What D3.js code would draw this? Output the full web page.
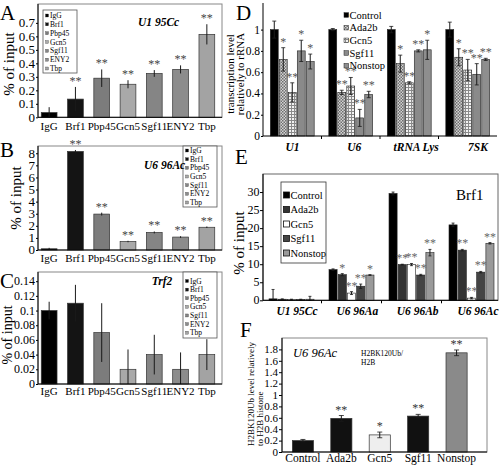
<!DOCTYPE html>
<html><head><meta charset="utf-8">
<script src="https://cdn.jsdelivr.net/npm/d3@7"></script>
<style>
body{margin:0;background:#fff}
svg{display:block}
</style></head><body>
<svg id="c" width="500" height="465"></svg>
<script>
// ---------- DATA ----------
const catsABC = ["IgG","Brf1","Pbp45","Gcn5","Sgf11","ENY2","Tbp"];
const valsA = [0.035,0.135,0.29,0.245,0.325,0.355,0.615];
const errA  = [0.04,0.09,0.065,0.03,0.025,0.03,0.075];
const starsA = ["","**","**","**","**","**","**"];
const ticksA = [0,0.1,0.2,0.3,0.4,0.5,0.6,0.7];

const valsB = [0.1,8.15,2.97,0.7,1.45,1.07,1.88];
const errB  = [0.08,0.12,0.12,0.06,0.08,0.07,0.06];
const starsB = ["","**","**","**","**","**","**"];
const ticksB = [0,1,2,3,4,5,6,7,8];

const valsC = [0.1,0.11,0.07,0.02,0.04,0.02,0.04];
const errC  = [0.012,0.025,0.04,0.027,0.027,0.023,0.021];
const starsC = ["","","","","","",""];
const ticksC = [0,0.02,0.04,0.06,0.08,0.1,0.12,0.14];

const groupsD = ["U1","U6","tRNA Lys","7SK"];
const seriesD = ["Control","Ada2b","Gcn5","Sgf11","Nonstop"];
const dControl = [1.0,1.0,1.0,1.0];
const dAda2b   = [0.72,0.41,0.68,0.74];
const dGcn5    = [0.41,0.47,0.50,0.62];
const dSgf11   = [0.80,0.17,0.80,0.58];
const dNonstop = [0.70,0.39,0.81,0.72];
const eControlD = [0.08,0.01,0.03,0.07];
const eAda2bD   = [0.11,0.02,0.08,0.08];
const eGcn5D    = [0.09,0.08,0.01,0.10];
const eSgf11D   = [0.10,0.08,0.01,0.10];
const eNonstopD = [0.07,0.03,0.09,0.01];
const sControlD = ["","","",""];
const sAda2bD   = ["*","**","*","*"];
const sGcn5D    = ["**","**","**","**"];
const sSgf11D   = ["*","**","**","**"];
const sNonstopD = ["*","**","*","**"];
const ticksD = [0,0.2,0.4,0.6,0.8,1];

const groupsE = ["U1 95Cc","U6 96Aa","U6 96Ab","U6 96Ac"];
const seriesE = ["Control","Ada2b","Gcn5","Sgf11","Nonstop"];
const eControl = [0.4,8.5,29.6,20.9];
const eAda2b   = [0.3,7.1,9.9,13.9];
const eGcn5    = [0.2,2.0,9.9,0.6];
const eSgf11   = [0.2,3.9,7.0,7.8];
const eNonstop = [0.3,7.0,13.2,15.8];
const errControlE = [2.6,0.2,0.4,0.5];
const errAda2bE   = [0.1,0.3,0.1,0.2];
const errGcn5E    = [0.1,0.4,0.3,0.2];
const errSgf11E   = [0.1,0.6,0.2,0.2];
const errNonstopE = [0.8,0.1,0.9,0.2];
const sControlE = ["","","",""];
const sAda2bE   = ["","*","**","**"];
const sGcn5E    = ["","**","**","**"];
const sSgf11E   = ["","**","**","**"];
const sNonstopE = ["","*","**","**"];
const ticksE = [0,5,10,15,20,25,30];

const catsF = ["Control","Ada2b","Gcn5","Sgf11","Nonstop"];
const valsF = [0.2,0.59,0.30,0.63,1.74];
const errF  = [0.02,0.05,0.05,0.03,0.05];
const starsF = ["","**","*","**","**"];
const ticksF = [0,0.2,0.4,0.6,0.8,1,1.2,1.4,1.6,1.8];

// ---------- STYLE ----------
const svg = d3.select("#c").style("font-family", "Liberation Serif");
svg.append("rect").attr("width",500).attr("height",465).attr("fill","#fff");

const defs = svg.append("defs");
const pc = defs.append("pattern").attr("id","chk").attr("width",3).attr("height",3).attr("patternUnits","userSpaceOnUse");
pc.append("rect").attr("width",3).attr("height",3).attr("fill","#d4d4d4");
pc.append("rect").attr("width",1.5).attr("height",1.5).attr("fill","#6e6e6e");
pc.append("rect").attr("x",1.5).attr("y",1.5).attr("width",1.5).attr("height",1.5).attr("fill","#6e6e6e");
const pg = defs.append("pattern").attr("id","grd").attr("width",3).attr("height",3).attr("patternUnits","userSpaceOnUse");
pg.append("rect").attr("width",3).attr("height",3).attr("fill","#f2f2f2");
pg.append("path").attr("d","M0 0.5H3M0.5 0V3").attr("stroke","#8a8a8a").attr("stroke-width",1);

const fillsABC = ["#000","#141414","#7c7c7c","#a9a9a9","#858585","#8c8c8c","#a3a3a3"];
const fillsD = ["#000","url(#chk)","url(#grd)","#8a8a8a","#8e8e8e"];
const fillsE = ["#000","#333","#fff","#444","#9a9a9a"];
const fillsF = ["#111","#111","#eeeeee","#111","#8a8a8a"];
function fmt(d) { return d === 0 ? "0" : String(Math.round(d*100)/100); }

const labelJobs = [];

function styleAxis(ag) {
  ag.select(".domain").attr("stroke","#000").attr("stroke-width",1);
  ag.selectAll(".tick line").attr("stroke","#000");
}
function yAxis(g, y, o) {
  const ax = d3.axisLeft(y).tickValues(o.ticks).tickFormat("").tickSize(o.tick).tickSizeOuter(0);
  const ag = g.append("g").attr("transform","translate(" + o.left + ",0)").call(ax);
  ag.select(".domain").attr("d","M0," + o.bottom + "V" + o.top);
  styleAxis(ag);
  labelJobs.push({ticks:o.ticks, y:y, x:o.left - o.tick - o.tpad, fs:o.tfs});
  return ag;
}
function xAxis(g, scale, o, fs, pad, bold) {
  const ag = g.append("g").attr("transform","translate(0," + o.bottom + ")")
    .call(d3.axisBottom(scale).tickSize(0).tickSizeOuter(0).tickFormat(""));
  ag.select(".domain").attr("d","M" + o.left + ",0H" + o.right);
  styleAxis(ag);
  const off = scale.bandwidth ? scale.bandwidth()/2 : 0;
  g.append("g").selectAll("text").data(scale.domain()).join("text")
    .attr("x", d => scale(d) + off).attr("y", o.bottom + pad)
    .attr("dy","0.71em").attr("text-anchor","middle")
    .attr("font-size", fs).attr("fill","#000")
    .attr("font-weight", bold ? "bold" : "normal").attr("font-style", bold ? "italic" : "normal")
    .text(d => d);
  return ag;
}

function errBars(g, rows, xc, y, cap) {
  const r = rows.filter(d=>d.e>0);
  g.selectAll(null).data(r).join("line")
    .attr("x1",xc).attr("x2",xc)
    .attr("y1",d=>y(Math.max(0,d.v-d.e))).attr("y2",d=>y(d.v+d.e))
    .attr("stroke","#1a1a1a").attr("stroke-width",1);
  if (cap>0) {
    [d=>d.v+d.e, d=>Math.max(0,d.v-d.e)].forEach(f=>{
      g.selectAll(null).data(r).join("line")
        .attr("x1",d=>xc(d)-cap).attr("x2",d=>xc(d)+cap)
        .attr("y1",d=>y(f(d))).attr("y2",d=>y(f(d)))
        .attr("stroke","#1a1a1a").attr("stroke-width",0.8);
    });
  }
}
function starsText(g, rows, xc, y, fs, col) {
  g.selectAll(null).data(rows.filter(d=>d.s)).join("text")
    .attr("x",xc).attr("y",d=>y(d.v+d.e)-2)
    .attr("text-anchor","middle").attr("font-size",fs).attr("fill",col).text(d=>d.s);
}
function frame(g,o,col){
  g.append("rect").attr("x",o.left).attr("y",o.top).attr("width",o.right-o.left)
    .attr("height",o.bottom-o.top).attr("fill","none").attr("stroke",col).attr("stroke-width",1);
}

function panelSimple(o) {
  const g = svg.append("g");
  const x = d3.scaleBand().domain(o.cats).range(o.xr).paddingInner(o.pi).paddingOuter(o.po);
  const y = d3.scaleLinear().domain([0,o.ymax]).range([o.bottom,o.top]);
  if (o.frame) frame(g,o,"#888");
  const rows = o.cats.map((c,i)=>({c:c,i:i,v:o.vals[i],e:o.errs[i],s:o.stars[i]}));
  g.selectAll(null).data(rows).join("rect")
    .attr("x",d=>x(d.c)).attr("width",x.bandwidth())
    .attr("y",d=>y(d.v)).attr("height",d=>y(0)-y(d.v))
    .attr("fill",d=>o.fills[d.i]).attr("stroke","#333").attr("stroke-width",0.7);
  const xc = d=>x(d.c)+x.bandwidth()/2;
  errBars(g, rows, xc, y, o.cap||0);
  starsText(g, rows, xc, y, o.sfs, o.scol);
  yAxis(g, y, o);
  xAxis(g, x, o, o.xfs, o.xpad, false);
  return g;
}

function panelGrouped(o) {
  const g = svg.append("g");
  const x0 = d3.scaleBand().domain(o.groups).range(o.xr).paddingInner(o.pi).paddingOuter(o.po);
  const x1 = d3.scaleBand().domain(o.series).range([0,x0.bandwidth()]).paddingInner(o.pi1);
  const y = d3.scaleLinear().domain([0,o.ymax]).range([o.bottom,o.top]);
  if (o.frame) frame(g,o,"#666");
  const rows = [];
  o.series.forEach((s,si)=>o.groups.forEach((gr,gi)=>rows.push({s:o.stars[si][gi],ser:s,si:si,gr:gr,v:o.vals[si][gi],e:o.errs[si][gi]})));
  g.selectAll(null).data(rows).join("rect")
    .attr("x",d=>x0(d.gr)+x1(d.ser)).attr("width",x1.bandwidth())
    .attr("y",d=>y(d.v)).attr("height",d=>y(0)-y(d.v))
    .attr("fill",d=>o.fills[d.si]).attr("stroke","#222").attr("stroke-width",0.6);
  const xc = d=>x0(d.gr)+x1(d.ser)+x1.bandwidth()/2;
  errBars(g, rows, xc, y, o.cap);
  starsText(g, rows, xc, y, o.sfs, o.scol);
  yAxis(g, y, o);
  const lx = d3.scalePoint().domain(o.groups).range(o.labelRange);
  xAxis(g, lx, o, o.xfs, o.xpad, true);
  const sep = o.groups.slice(1).map(gr=>x0(gr)-x0.step()*o.pi/2);
  g.selectAll(null).data(sep).join("line")
    .attr("x1",d=>d).attr("x2",d=>d).attr("y1",o.bottom).attr("y2",o.bottom+3)
    .attr("stroke","#000").attr("stroke-width",1);
  return g;
}

function legendSmall(o) {
  const g = svg.append("g");
  g.append("rect").attr("x",o.x).attr("y",o.y).attr("width",o.w).attr("height",o.h)
    .attr("fill","#fff").attr("stroke","#555").attr("stroke-width",0.8);
  const ly = d3.scalePoint().domain(o.items).range([o.y0,o.y1]);
  g.selectAll(null).data(o.items).join("rect")
    .attr("x",o.x+2.5).attr("y",d=>ly(d)-1.5).attr("width",3).attr("height",3)
    .attr("fill",(d,i)=>o.fills[i]).attr("stroke","#333").attr("stroke-width",0.3);
  g.selectAll(null).data(o.items).join("text")
    .attr("x",o.x+7).attr("y",d=>ly(d)+2.6).attr("font-size",o.fs).attr("fill","#000").text(d=>d);
}

function title(x,y,t,fs,opts) {
  opts = opts || {};
  return svg.append("text").attr("x",x).attr("y",y).attr("font-size",fs)
    .attr("font-weight",opts.bold?"bold":"normal").attr("font-style",opts.italic?"italic":"normal")
    .attr("text-anchor",opts.anchor||"start").attr("fill","#000").text(t);
}
function vlabel(x,y,t,fs,anchor) {
  return svg.append("text").attr("transform","translate(" + x + "," + y + ") rotate(-90)")
    .attr("text-anchor",anchor||"middle").attr("font-size",fs).attr("fill","#000").text(t);
}

// ---------- PANEL A ----------
panelSimple({cats:catsABC, vals:valsA, errs:errA, stars:starsA, fills:fillsABC,
  xr:[36,220], pi:0.4, po:0.2, ymax:0.84, top:4, bottom:117.3, left:38, right:222,
  ticks:ticksA, tick:2, tpad:1, tfs:13, xpad:4.5, xfs:11, sfs:12, scol:"#444", frame:true});
legendSmall({x:43,y:10,w:34,h:63,items:catsABC,fills:fillsABC,y0:15.5,y1:68.5,fs:7.5});
title(138,26,"U1 95Cc",11.5,{bold:true,italic:true});
title(0,20,"A",21);
vlabel(14,64,"% of input",15);

// ---------- PANEL B ----------
panelSimple({cats:catsABC, vals:valsB, errs:errB, stars:starsB, fills:fillsABC,
  xr:[36,220], pi:0.4, po:0.2, ymax:8.6, top:146, bottom:250, left:38, right:222,
  ticks:ticksB, tick:2, tpad:1, tfs:13, xpad:4, xfs:11, sfs:12, scol:"#444", frame:true});
legendSmall({x:183,y:146,w:34,h:61,items:catsABC,fills:fillsABC,y0:150.5,y1:202.5,fs:7.5});
title(144,169,"U6 96Ac",11.5,{bold:true,italic:true});
title(0,157,"B",21);
vlabel(21,198,"% of input",15);

// ---------- PANEL C ----------
panelSimple({cats:catsABC, vals:valsC, errs:errC, stars:starsC, fills:fillsABC,
  xr:[36,220], pi:0.4, po:0.2, ymax:0.1525, top:272, bottom:384, left:38, right:222,
  ticks:ticksC, tick:2, tpad:1, tfs:12, xpad:3, xfs:11, sfs:12, scol:"#444", frame:true});
legendSmall({x:183,y:272,w:34,h:66,items:catsABC,fills:fillsABC,y0:281,y1:332.7,fs:7.5});
title(162,285,"Trf2",11.5,{bold:true,italic:true,anchor:"middle"});
title(0,288,"C",21);
vlabel(12,335,"% of input",14);

// ---------- PANEL D ----------
panelGrouped({groups:groupsD, series:seriesD,
  vals:[dControl,dAda2b,dGcn5,dSgf11,dNonstop],
  errs:[eControlD,eAda2bD,eGcn5D,eSgf11D,eNonstopD],
  stars:[sControlD,sAda2bD,sGcn5D,sSgf11D,sNonstopD],
  fills:fillsD, xr:[263,497], pi:0.25, po:0.125, pi1:0.12,
  ymax:1.25, top:3, bottom:136, left:263, right:497,
  ticks:ticksD, tick:2, tpad:1, tfs:11.5, xpad:7, xfs:11.5,
  labelRange:[292.5,478], cap:2, sfs:12, scol:"#555", frame:false});
{
  const ly = d3.scalePoint().domain(seriesD).range([15,65.7]);
  const g = svg.append("g");
  g.selectAll(null).data(seriesD).join("rect")
    .attr("x",344).attr("y",d=>ly(d)-2.3).attr("width",4.6).attr("height",4.6)
    .attr("fill",(d,i)=>fillsD[i]).attr("stroke","#222").attr("stroke-width",0.5);
  g.selectAll(null).data(seriesD).join("text")
    .attr("x",349.5).attr("y",d=>ly(d)+3.6).attr("font-size",10.5).attr("fill","#000").text(d=>d);
}
title(236,20,"D",21);
vlabel(234,74,"transcription level",11);
vlabel(243.5,74,"relatively to rRNA",11);

// ---------- PANEL E ----------
panelGrouped({groups:groupsE, series:seriesE,
  vals:[eControl,eAda2b,eGcn5,eSgf11,eNonstop],
  errs:[errControlE,errAda2bE,errGcn5E,errSgf11E,errNonstopE],
  stars:[sControlE,sAda2bE,sGcn5E,sSgf11E,sNonstopE],
  fills:fillsE, xr:[263,500], pi:0.25, po:0.1, pi1:0.12,
  ymax:35, top:174, bottom:300.3, left:263, right:498,
  ticks:ticksE, tick:3, tpad:0.5, tfs:12, xpad:7, xfs:11.5,
  labelRange:[297,478], cap:1.5, sfs:12, scol:"#666", frame:true});
{
  const g = svg.append("g");
  g.append("rect").attr("x",281).attr("y",182).attr("width",45).attr("height",81)
    .attr("fill","#fff").attr("stroke","#333").attr("stroke-width",0.8);
  const ly = d3.scalePoint().domain(seriesE).range([195,253]);
  g.selectAll(null).data(seriesE).join("rect")
    .attr("x",283.5).attr("y",d=>ly(d)-3).attr("width",6).attr("height",6)
    .attr("fill",(d,i)=>fillsE[i]).attr("stroke","#111").attr("stroke-width",0.8);
  g.selectAll(null).data(seriesE).join("text")
    .attr("x",290.5).attr("y",d=>ly(d)+3.6).attr("font-size",10.5).attr("fill","#000").text(d=>d);
}
title(456,200,"Brf1",15);
title(235,164,"E",21);
vlabel(244,243,"% of input",15);

// ---------- PANEL F ----------
panelSimple({cats:catsF, vals:valsF, errs:errF, stars:starsF, fills:fillsF,
  xr:[277,482.5], pi:0.45, po:0.4, ymax:2, top:338, bottom:452, left:282, right:487,
  ticks:ticksF, tick:3, tpad:1, tfs:11, xpad:2, xfs:11.5, sfs:12, scol:"#333", frame:true, cap:2.5});
title(293,357,"U6 96Ac",12.5,{italic:true});
title(361,356,"H2BK120Ub/",7.5);
title(361,364.5,"H2B",7.5);
title(240,337,"F",21);
vlabel(254,446,"H2BK120Ub level relatively",9,"start");
vlabel(262.5,446,"to H2B histone",9,"start");

// ---------- Y TICK LABELS (drawn last, through each panel's y scale) ----------
const overlay = svg.append("g");
labelJobs.forEach(job => {
  overlay.append("g").selectAll("text").data(job.ticks).join("text")
    .attr("x", job.x).attr("y", d => job.y(d))
    .attr("dy","0.34em").attr("text-anchor","end")
    .attr("font-size", job.fs).attr("fill","#000").text(fmt);
});
</script></body></html>
